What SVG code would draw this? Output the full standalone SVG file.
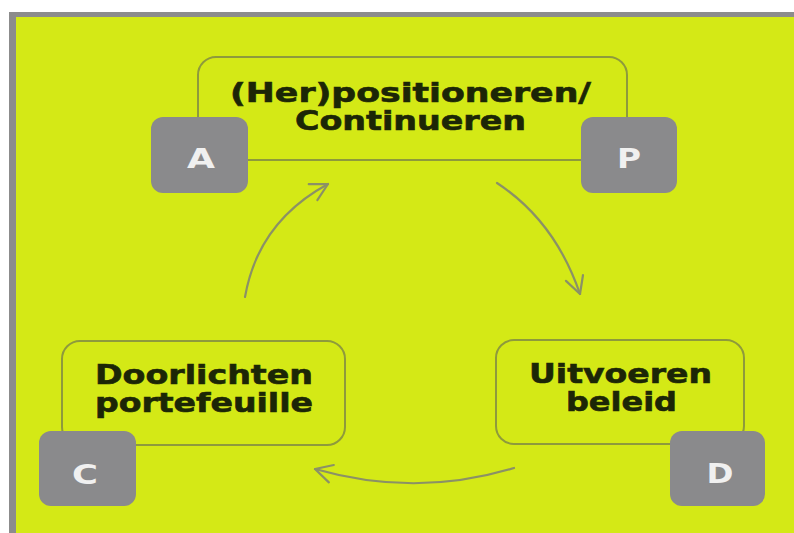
<svg xmlns="http://www.w3.org/2000/svg" width="794" height="533" viewBox="0 0 794 533">
  <style>
    .frame { fill: #d4e916; }
    .edge { fill: #8c8c8c; }
    .panel { fill: none; stroke: #8e9a3c; stroke-width: 2; }
    .tag { fill: #8a8a8c; }
    .tag-text { font-family: "DejaVu Sans", Verdana, sans-serif; font-weight: bold; font-size: 27px; fill: #f0f0f0; text-anchor: middle; }
    .label { font-family: "DejaVu Sans", Verdana, sans-serif; font-weight: bold; font-size: 26px; fill: #1c2606; stroke: #1c2606; stroke-width: 0.6; text-anchor: middle; }
    .flow { fill: none; stroke: #8b9166; stroke-width: 2.2; stroke-linecap: round; }
  </style>
  <defs>
    <marker id="head" viewBox="0 0 24 24" refX="20" refY="12" markerWidth="24" markerHeight="24" markerUnits="userSpaceOnUse" orient="auto">
      <path d="M3 3 L20 12 L3 21" fill="none" stroke="#8b9166" stroke-width="2.2" stroke-linecap="round" stroke-linejoin="round"/>
    </marker>
  </defs>

  <!-- background and frame -->
  <rect x="0" y="0" width="794" height="533" fill="#ffffff"/>
  <rect class="edge" x="9" y="12" width="785" height="521"/>
  <rect class="frame" x="16" y="17" width="778" height="516"/>

  <!-- connectors -->
  <g id="connectors">
    <path class="flow" d="M245 297 Q258 222 328 184" marker-end="url(#head)"/>
    <path class="flow" d="M497 183 Q555 221 580 294" marker-end="url(#head)"/>
    <path class="flow" d="M514 468 Q416 498 315 469" marker-end="url(#head)"/>
  </g>

  <!-- top: Act / Plan -->
  <g id="node-positioneren">
    <rect class="panel" x="198" y="57" width="429" height="103" rx="18"/>
    <text class="label" x="410.5" y="102" textLength="361" lengthAdjust="spacingAndGlyphs">(Her)positioneren/</text>
    <text class="label" x="410.5" y="130" textLength="231" lengthAdjust="spacingAndGlyphs">Continueren</text>
  </g>
  <g id="tag-a">
    <rect class="tag" x="151" y="117" width="97" height="76" rx="12"/>
    <text class="tag-text" x="201" y="168" textLength="28" lengthAdjust="spacingAndGlyphs">A</text>
  </g>
  <g id="tag-p">
    <rect class="tag" x="581" y="117" width="96" height="76" rx="12"/>
    <text class="tag-text" x="629" y="168" textLength="24" lengthAdjust="spacingAndGlyphs">P</text>
  </g>

  <!-- bottom left: Check -->
  <g id="node-doorlichten">
    <rect class="panel" x="62" y="341" width="283" height="104" rx="18"/>
    <text class="label" x="204" y="384" textLength="218" lengthAdjust="spacingAndGlyphs">Doorlichten</text>
    <text class="label" x="204" y="412" textLength="218" lengthAdjust="spacingAndGlyphs">portefeuille</text>
  </g>
  <g id="tag-c">
    <rect class="tag" x="39" y="431" width="97" height="75" rx="12"/>
    <text class="tag-text" x="85" y="484" textLength="26" lengthAdjust="spacingAndGlyphs">C</text>
  </g>

  <!-- bottom right: Do -->
  <g id="node-uitvoeren">
    <rect class="panel" x="496" y="340" width="248" height="104" rx="18"/>
    <text class="label" x="620.5" y="383" textLength="183" lengthAdjust="spacingAndGlyphs">Uitvoeren</text>
    <text class="label" x="621.5" y="411" textLength="111" lengthAdjust="spacingAndGlyphs">beleid</text>
  </g>
  <g id="tag-d">
    <rect class="tag" x="670" y="431" width="95" height="75" rx="12"/>
    <text class="tag-text" x="720" y="483" textLength="27" lengthAdjust="spacingAndGlyphs">D</text>
  </g>
</svg>
